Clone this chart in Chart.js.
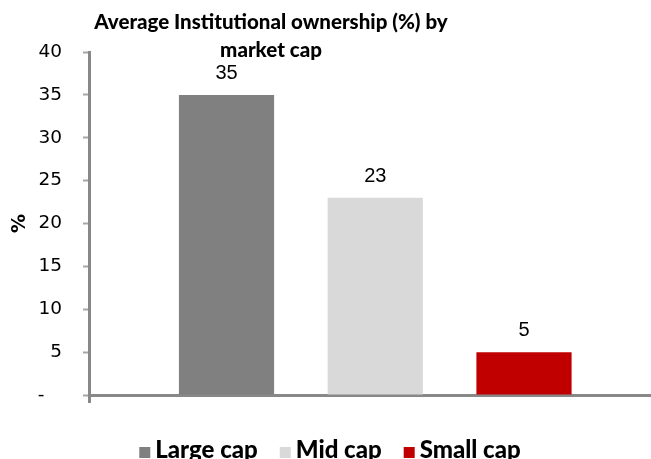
<!DOCTYPE html>
<html>
<head>
<meta charset="utf-8">
<script src="https://cdn.jsdelivr.net/npm/chart.js@4/dist/chart.umd.min.js"></script>
<style>
  html, body { margin: 0; padding: 0; background: #fff; overflow: hidden; }
  #wrap { width: 651px; height: 459px; position: relative; }
</style>
</head>
<body>
<div id="wrap"><canvas id="c" width="651" height="459"></canvas></div>
<script>
// Chart content
const chartTitle = ['Average Institutional ownership (%) by', 'market cap'];
const categories = ['Large cap', 'Mid cap', 'Small cap'];
const ownership = [35, 23, 5];
const barColors = ['#808080', '#d9d9d9', '#c00000'];
const yTicks = [0, 5, 10, 15, 20, 25, 30, 35, 40];
const yAxisTitle = '%';

const axisGrey = '#888888';
const heavyFamily = 'Lato, "DejaVu Sans", sans-serif';

// Value printed above each bar
const valueLabels = {
  id: 'valueLabels',
  afterDatasetsDraw(chart) {
    const { ctx } = chart;
    const meta = chart.getDatasetMeta(0);
    const data = chart.data.datasets[0].data;
    ctx.save();
    ctx.font = '20px "Liberation Sans", Arial, sans-serif';
    ctx.fillStyle = '#000';
    ctx.textAlign = 'center';
    ctx.textBaseline = 'alphabetic';
    meta.data.forEach((bar, i) => {
      ctx.fillText(String(Math.round(data[i].y)), bar.x, bar.y - 16);
    });
    ctx.restore();
  }
};

// Two-line heading and the colour key along the bottom
const headerAndKey = {
  id: 'headerAndKey',
  afterDraw(chart) {
    const { ctx } = chart;
    ctx.save();
    ctx.fillStyle = '#000';
    ctx.textAlign = 'center';
    ctx.textBaseline = 'alphabetic';
    ctx.font = '900 20.5px ' + heavyFamily;
    const titleX = 271;
    chartTitle.forEach((line, i) => ctx.fillText(line, titleX, 29 + i * 28));

    ctx.font = '900 24px ' + heavyFamily;
    ctx.textAlign = 'left';
    const box = 11, gap = 5, spacing = 22;
    const widths = categories.map(c => box + gap + ctx.measureText(c).width);
    const total = widths.reduce((a, b) => a + b, 0) + spacing * (categories.length - 1);
    let x = 330 - total / 2;
    categories.forEach((c, i) => {
      ctx.fillStyle = barColors[i];
      ctx.fillRect(x, 447, box, box);
      ctx.fillStyle = '#000';
      ctx.fillText(c, x + box + gap, 458);
      x += widths[i] + spacing;
    });
    ctx.restore();
  }
};

new Chart(document.getElementById('c'), {
  type: 'bar',
  data: {
    datasets: [{
      label: 'Average institutional ownership',
      data: ownership.map((v, i) => ({ x: i, y: v })),
      backgroundColor: barColors,
      borderWidth: 0,
      categoryPercentage: 1,
      barPercentage: 0.64
    }]
  },
  options: {
    responsive: false,
    animation: false,
    devicePixelRatio: 1,
    layout: { padding: { top: 52, right: 0, bottom: 56, left: 0 } },
    plugins: {
      legend: { display: false },
      title: { display: false },
      tooltip: { enabled: false }
    },
    scales: {
      x: {
        type: 'linear',
        offset: false,
        min: -0.9244,
        max: 2.8538,
        afterBuildTicks(scale) { scale.ticks = [{ value: scale.min }]; },
        ticks: { display: false },
        grid: {
          offset: false,
          drawOnChartArea: false,
          drawTicks: true,
          tickLength: 8,
          tickWidth: 3,
          tickColor: axisGrey
        },
        border: { display: true, color: axisGrey, width: 3 }
      },
      y: {
        min: yTicks[0],
        max: yTicks[yTicks.length - 1],
        afterFit(scale) { scale.width = 89; },
        ticks: {
          stepSize: yTicks[1] - yTicks[0],
          padding: 21,
          color: '#000',
          font: { family: '"DejaVu Sans", sans-serif', size: 18.5 },
          callback: (v) => (v === 0 ? '-\u2007 ' : String(v))
        },
        grid: {
          drawOnChartArea: false,
          drawTicks: true,
          tickLength: 6,
          tickWidth: 2,
          tickColor: '#a6a6a6'
        },
        border: { display: true, color: axisGrey, width: 3 },
        title: {
          display: true,
          text: yAxisTitle,
          color: '#000',
          font: { family: '"DejaVu Sans", sans-serif', size: 19, weight: 'bold' },
          padding: { top: 9, bottom: 0 }
        }
      }
    }
  },
  plugins: [valueLabels, headerAndKey]
});
</script>
</body>
</html>
